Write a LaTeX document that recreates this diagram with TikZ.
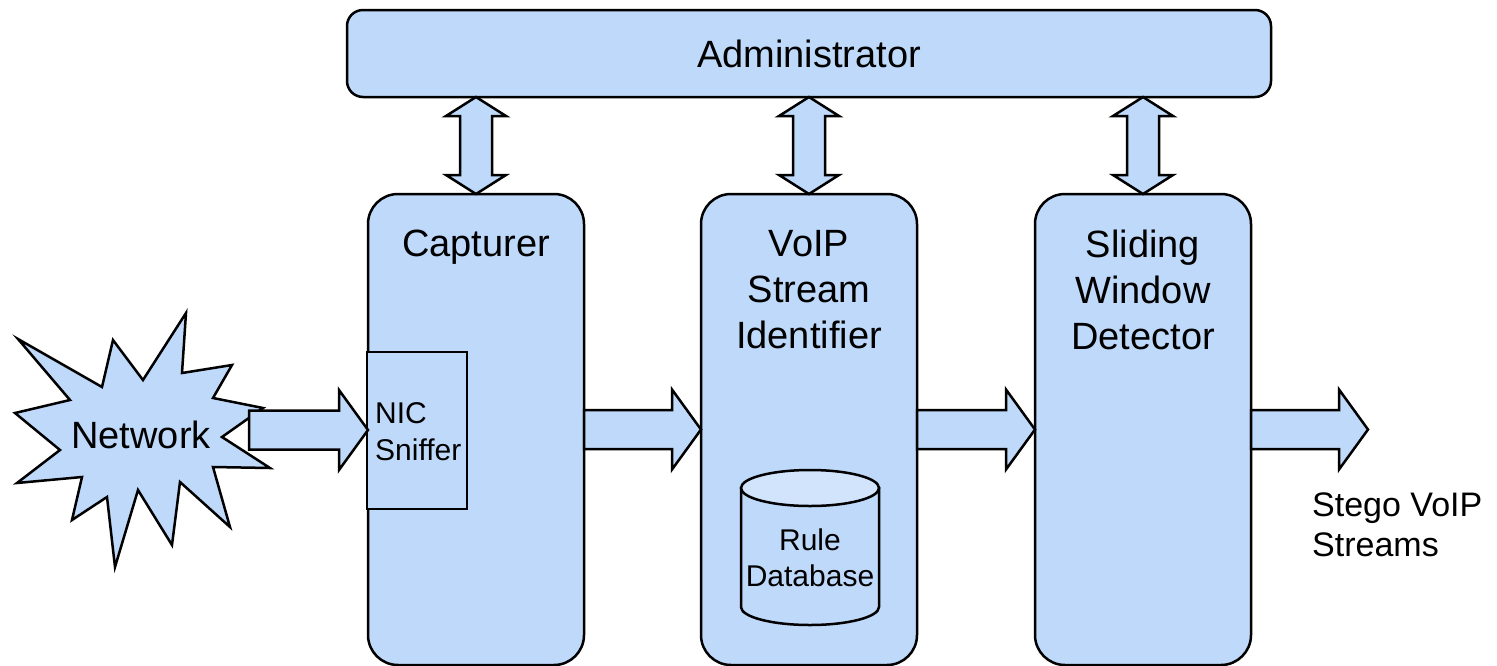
\documentclass[tikz,border=0pt]{standalone}
\usepackage{fontspec}
\setmainfont{Liberation Sans}
\usetikzlibrary{calc}
\definecolor{boxblue}{RGB}{191,217,250}
\definecolor{capblue}{RGB}{210,228,252}

% horizontal block arrow from the point #1 to the x position of #2
\newcommand\flowarrow[2]{%
  \draw[outline] let \p1=(#1), \p2=(#2) in
    (\x1,\y1+19.5) -- (\x2-29,\y1+19.5) -- (\x2-29,\y1+40) -- (\x2,\y1)
    -- (\x2-29,\y1-40) -- (\x2-29,\y1-19.5) -- (\x1,\y1-19.5) -- cycle;}

% vertical two-headed block arrow between the top of #1 and the node #2 above it
\newcommand\linkarrow[2]{%
  \draw[outline] let \p1=(#1.north), \p2=(#2.south -| #1.north) in
    (\x1,\y2) -- (\x1+30,\y2-19) -- (\x1+16,\y2-19) -- (\x1+16,\y1+19)
    -- (\x1+30,\y1+19) -- (\x1,\y1) -- (\x1-30,\y1+19) -- (\x1-16,\y1+19)
    -- (\x1-16,\y2-19) -- (\x1-30,\y2-19) -- cycle;}

\begin{document}
\begin{tikzpicture}[x=1pt,y=-1pt,
  outline/.style={draw=black, line width=2.5pt, fill=boxblue, line join=miter},
  panel/.style={outline, rounded corners=30pt, minimum width=216pt,
    minimum height=471pt, inner sep=0pt, outer sep=0pt},
  topbar/.style={outline, rounded corners=16pt, minimum width=924pt,
    minimum height=87pt, inner sep=0pt, outer sep=0pt,
    font=\fontsize{38}{46}\selectfont},
  bigtext/.style={font=\fontsize{38}{46}\selectfont, align=center, inner sep=0pt},
  smalltext/.style={font=\fontsize{30}{37}\selectfont, inner sep=0pt},
]
\useasboundingbox (0,0) rectangle (1497,665);

% main blocks
\node[topbar] (admin) at (809,53.5) {Administrator};
\node[panel] (cap)   at (476,429.5) {};
\node[panel] (voip)  at (809,429.5) {};
\node[panel] (slide) at (1143,429.5) {};

% NIC sniffer inside the capturer
\node[outline, minimum width=100pt, minimum height=157pt, inner sep=0pt,
      outer sep=0pt] (nic) at (417,430.5) {};

% rule database cylinder
\coordinate (dbtop) at (810,488);
\coordinate (dbbot) at (810,607);
\draw[outline] (741,488) -- (741,607)
  arc[start angle=180, end angle=360, x radius=69pt, y radius=18pt]
  -- (879,488) -- cycle;
\draw[outline, fill=capblue] (dbtop) ellipse [x radius=69pt, y radius=18pt];

% network burst
\draw[outline] (186,313) -- (182,373) -- (232,365) -- (213,398) -- (263,408)
  -- (222,437) -- (270,468) -- (213,467) -- (230,527) -- (180,482)
  -- (172,545) -- (138,490) -- (115,567) -- (107,497) -- (72,520)
  -- (82,477) -- (17,483) -- (60,450) -- (15,413) -- (70,400)
  -- (18,339) -- (102,387) -- (113,340) -- (143,380) -- cycle;

% data flow
\coordinate (netout) at (249,430);
\coordinate (out) at (1368,430);
\flowarrow{netout}{cap.west}
\flowarrow{cap.east}{voip.west}
\flowarrow{voip.east}{slide.west}
\flowarrow{slide.east}{out}

% links to the administrator
\linkarrow{cap}{admin}
\linkarrow{voip}{admin}
\linkarrow{slide}{admin}

% labels
\node[bigtext] (net) at (141,435) {Network};
\node[bigtext, anchor=base] (captxt) at (476,256.6) {Capturer};
\node[bigtext] (voiptxt) at (809,289.5) {VoIP\\Stream\\Identifier};
\node[bigtext] (slidetxt) at (1143,289.5) {Sliding\\Window\\Detector};
\node[smalltext, align=left, anchor=west] (nictxt) at (375,431.5) {NIC\\Sniffer};
\node[smalltext, align=center, font=\fontsize{30}{36}\selectfont] (dbtxt)
  at (810,558) {Rule\\Database};
\node[smalltext, align=left, anchor=west, font=\fontsize{34}{40}\selectfont]
  (outtxt) at (1312,525) {Stego VoIP\\Streams};
\end{tikzpicture}
\end{document}
